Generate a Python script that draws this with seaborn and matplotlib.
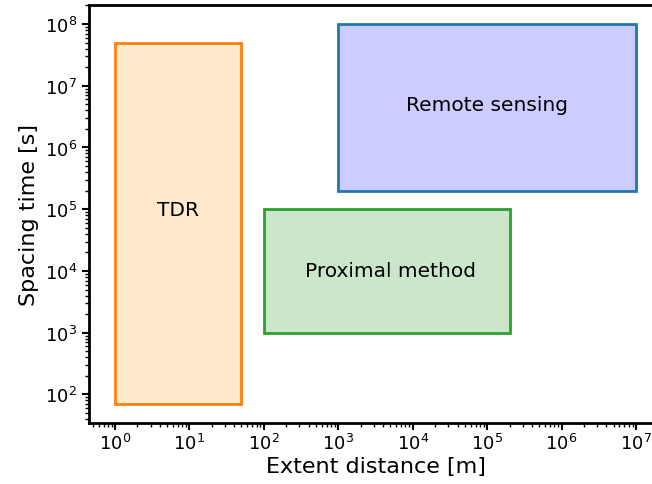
import matplotlib
matplotlib.use("Agg")
import matplotlib.pyplot as plt
import seaborn as sns
from matplotlib.patches import Rectangle

sns.set_style("ticks")
plt.rcParams['font.family'] = ['DejaVu Sans']
plt.rcParams['text.color'] = 'black'
plt.rcParams['axes.labelcolor'] = 'black'
plt.rcParams['xtick.color'] = 'black'
plt.rcParams['ytick.color'] = 'black'
plt.rcParams['axes.edgecolor'] = 'black'

methods = ["TDR", "Proximal method", "Remote sensing"]
x_min = [1, 1e2, 1e3]
x_max = [50, 2e5, 1e7]
y_min = [70, 1e3, 2e5]
y_max = [5e7, 1e5, 1e8]
label_x = [7, 5e3, 1e5]
label_y = [1e5, 1e4, 5e6]
edge_colors = ["#ff7f0e", "#2ca02c", "#1f77b4"]
face_colors = ["#ffebcc", "#cce6cc", "#ccccff"]

fig = plt.figure(figsize=(6.52, 4.85), dpi=100)
ax = fig.add_axes([89/652, 61/485, (662-89)/652, (424-6)/485])
ax.set_xscale("log")
ax.set_yscale("log")

for name, x0, x1, y0, y1, lx, ly, ec, fc in zip(methods, x_min, x_max, y_min, y_max,
                                                label_x, label_y, edge_colors, face_colors):
    ax.add_patch(Rectangle((x0, y0), x1 - x0, y1 - y0, facecolor=fc, edgecolor=ec, linewidth=2))
    ax.text(lx, ly, name, ha="center", va="center", fontsize=14.5, color="black")

ax.autoscale_view()
ax.margins(0.05)
ax.set_xlabel("Extent distance [m]", fontsize=16, labelpad=2)
ax.set_ylabel("Spacing time [s]", fontsize=16)
ax.tick_params(axis="both", which="major", labelsize=13, width=1.5, length=5)
ax.tick_params(axis="x", which="major", pad=2)
ax.tick_params(axis="both", which="minor", width=1, length=3)
for s in ax.spines.values():
    s.set_linewidth(2)

fig.savefig("out.png", dpi=100)
